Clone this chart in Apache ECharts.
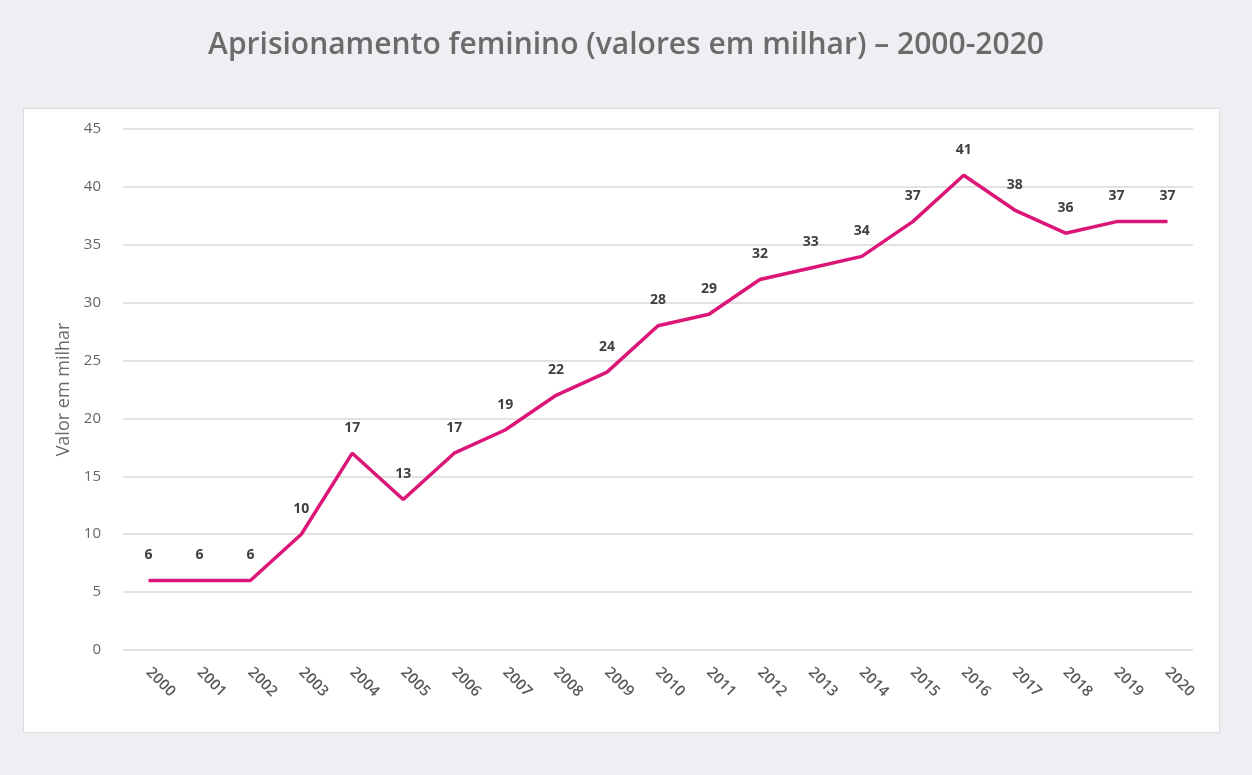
<!DOCTYPE html>
<html><head><meta charset="utf-8">
<script src="https://cdn.jsdelivr.net/npm/echarts@6/dist/echarts.min.js"></script>
<style>html,body{margin:0;padding:0;background:#efeff3;}#c{width:1252px;height:775px;}</style>
</head><body><div id="c"></div>
<script>
const titleText = 'Aprisionamento feminino (valores em milhar) – 2000-2020';
const yAxisName = 'Valor em milhar';
const years = ['2000','2001','2002','2003','2004','2005','2006','2007','2008','2009','2010','2011','2012','2013','2014','2015','2016','2017','2018','2019','2020'];
const values = [6,6,6,10,17,13,17,19,22,24,28,29,32,33,34,37,41,38,36,37,37];

const chart = echarts.init(document.getElementById('c'), null, {renderer:'canvas'});
chart.setOption({
  backgroundColor: '#efeff3',
  animation: false,
  title: {
    text: titleText, left: 'center', top: 25,
    textStyle: {fontFamily: 'Open Sans', fontWeight: 600, fontSize: 30, color: '#6b6b6b'}
  },
  graphic: [{
    type: 'rect', z: -10, silent: true,
    shape: {x: 23.5, y: 108.5, width: 1196, height: 624},
    style: {fill: '#ffffff', stroke: '#dcdcdc', lineWidth: 1}
  }],
  grid: {left: 123, right: 59, top: 129, bottom: 125},
  xAxis: {
    type: 'category', data: years, boundaryGap: true,
    axisLine: {show: false}, axisTick: {show: false},
    axisLabel: {rotate: -45, margin: 20, fontFamily: 'Open Sans', fontWeight: 600, fontSize: 15, color: '#595959', interval: 0}
  },
  yAxis: {
    type: 'value', min: 0, max: 45, interval: 5,
    name: yAxisName, nameLocation: 'middle', nameGap: 49, nameRotate: 90,
    nameTextStyle: {fontFamily: 'Open Sans', fontSize: 18, color: '#6b6b6b'},
    axisLine: {show: false}, axisTick: {show: false},
    axisLabel: {margin: 22, fontFamily: 'Open Sans', fontSize: 15, color: '#666666'},
    splitLine: {lineStyle: {color: '#d9d9d9', width: 1.5}}
  },
  series: [{
    type: 'line', data: values, symbol: 'circle', symbolSize: 1, showSymbol: true,
    itemStyle: {color: 'rgba(0,0,0,0)'},
    lineStyle: {color: '#dc1677', width: 3.5},
    label: {show: true, position: 'top', distance: 18, fontFamily: 'Open Sans', fontWeight: 'bold', fontSize: 14, color: '#404040'}
  }]
});
</script></body></html>
